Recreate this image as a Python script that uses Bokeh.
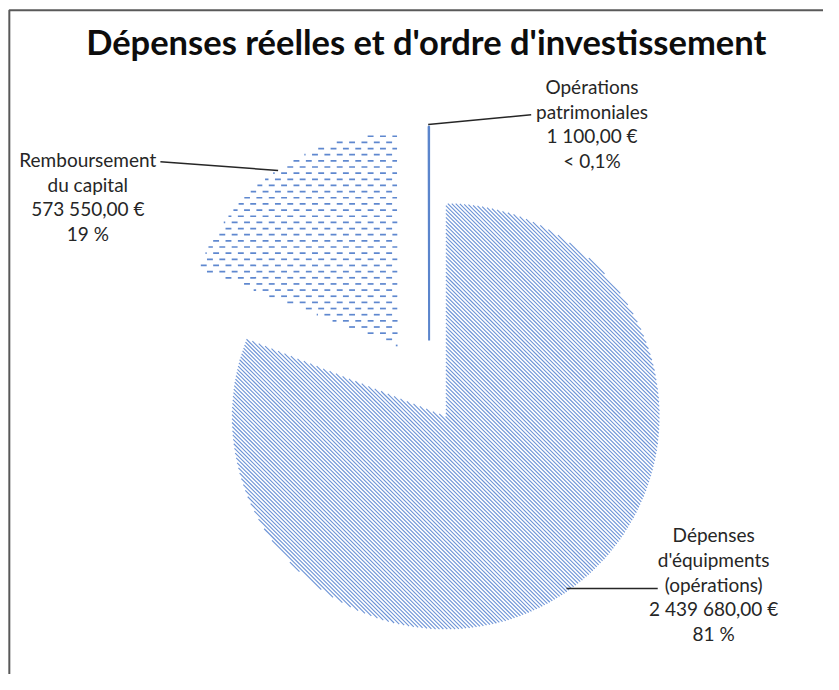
import numpy as np
from bokeh.plotting import figure
from bokeh.models import Range1d
from bokeh.embed import file_html
from bokeh.resources import INLINE
from bokeh.core.properties import value

# ---- data ----
title_text = "Dépenses réelles et d'ordre d'investissement"
categories = ["Dépenses d'équipments (opérations)", "Remboursement du capital", "Opérations patrimoniales"]
values = [2439680.00, 573550.00, 1100.00]
value_labels = ["2 439 680,00 €", "573 550,00 €", "1 100,00 €"]
pct_labels = ["81 %", "19 %", "< 0,1%"]
name_lines = [["Dépenses", "d'équipments", "(opérations)"],
              ["Remboursement", "du capital"],
              ["Opérations", "patrimoniales"]]

# ---- layout: data space = reference picture space (839 x 690, y flipped) ----
RW, RH = 839, 690
W, H = 823, 674


def fy(yi):
    return RH - np.asarray(yi, dtype=float)


p = figure(width=W, height=H, x_range=Range1d(0, RW), y_range=Range1d(0, RH),
           output_backend="svg", toolbar_location=None, min_border=0,
           x_axis_location=None, y_axis_location=None)
p.grid.visible = False
p.outline_line_color = None
p.background_fill_color = "white"
p.border_fill_color = "white"

# pie geometry (picture coordinates, y down)
R = 218.0
center = (437.0, 401.0)
explode = np.array([30.0, 57.0, 53.0])

vals = np.array(values, dtype=float)
frac = vals / vals.sum()
cum = np.concatenate([[0.0], np.cumsum(frac)]) * 2 * np.pi  # clockwise from 12 o'clock
th0, th1 = cum[:-1], cum[1:]
mid = (th0 + th1) / 2
cxs = center[0] + explode * np.sin(mid)
cys = center[1] - explode * np.cos(mid)

# wedges (math angles, anticlockwise from +x)
start_angle = np.pi / 2 - th1
end_angle = np.pi / 2 - th0
p.wedge(x=cxs[:2], y=fy(cys[:2]), radius=R, start_angle=start_angle[:2], end_angle=end_angle[:2],
        fill_color=None, line_color=None)
p.wedge(x=[cxs[2]], y=fy([cys[2]]), radius=R, start_angle=[start_angle[2]], end_angle=[end_angle[2]],
        fill_color=None, line_color="#5b85cc", line_width=2)


def in_sector(px, py, i):
    vx = px - cxs[i]
    vy = cys[i] - py
    rr = np.hypot(vx, vy)
    th = np.mod(np.arctan2(vx, vy), 2 * np.pi)
    return (rr <= R) & (th >= th0[i]) & (th <= th1[i])


# hatching of slice 0: wide downward diagonal lines
hx0, hy0, hx1, hy1 = [], [], [], []
cx, cy = cxs[0], cys[0]
ts = np.arange(cy - R - 2, cy + R + 2, 0.25)
for c in np.arange(np.floor(cx - cy - 2 * R) - 4, cx - cy + 2 * R + 4, 4.0):
    xs = ts + c
    m = in_sector(xs, ts, 0)
    if not m.any():
        continue
    d = np.diff(np.concatenate([[0], m.astype(int), [0]]))
    st = np.where(d == 1)[0]
    en = np.where(d == -1)[0] - 1
    for s, e in zip(st, en):
        if e > s:
            hx0.append(xs[s]); hy0.append(ts[s]); hx1.append(xs[e]); hy1.append(ts[e])
p.segment(x0=hx0, y0=fy(hy0), x1=hx1, y1=fy(hy1), line_color="#6c93d6", line_width=1.1)

# hatching of slice 1: dashed horizontal (brick) pattern
dx0, dy0, dx1, dy1 = [], [], [], []
cx, cy = cxs[1], cys[1]
row, per, dash = 6.3, 12.6, 6.0
anchor = 405.5
k = 0
y = cy - R + 3
while y < cy + 2:
    off = (k % 2) * per / 2
    xstart = anchor - dash + off
    n0 = int(np.floor((cx - R - xstart) / per)) - 1
    n1 = int(np.ceil((cx + 2 - xstart) / per)) + 1
    for n in range(n0, n1 + 1):
        xa = xstart + n * per
        xs = np.linspace(xa, xa + dash, 25)
        m = in_sector(xs, np.full_like(xs, y), 1)
        if m.sum() >= 2:
            dx0.append(xs[m].min()); dx1.append(xs[m].max()); dy0.append(y); dy1.append(y)
    y += row
    k += 1
p.segment(x0=dx0, y0=fy(dy0), x1=dx1, y1=fy(dy1), line_color="#5f88cf", line_width=1.7)

# leader lines
leaders_x = [[577, 670], [163, 283], [436, 541]]
leaders_y = [[602, 602], [165, 174], [127, 117]]
p.multi_line(xs=leaders_x, ys=[list(fy(v)) for v in leaders_y], line_color="#262626", line_width=1.5)

# labels
label_centers = [(727, 547), (89, 163), (603, 88)]
LS = 25.2
tx, ty, tt = [], [], []
for i in range(len(categories)):
    lines = name_lines[i] + [value_labels[i], pct_labels[i]]
    x0, y0 = label_centers[i]
    for kk, s in enumerate(lines):
        tx.append(x0)
        ty.append(y0 + kk * LS)
        tt.append(s)
p.text(x=tx, y=fy(ty), text=tt, text_align="center", text_baseline="middle",
       text_font=value("Lato"), text_font_size="19px", text_color="#262626")

# title
p.text(x=[434], y=fy([42]), text=[title_text], text_align="center",
       text_baseline="middle", text_font=value("Lato"), text_font_style="bold",
       text_font_size="34.5px", text_color="#0d0d0d")

# chart border (left and top visible)
p.line(x=[9, 9, RW], y=fy([RH, 10, 10]), line_color="#595959", line_width=2)

open("out.html", "w").write(file_html(p, INLINE))
